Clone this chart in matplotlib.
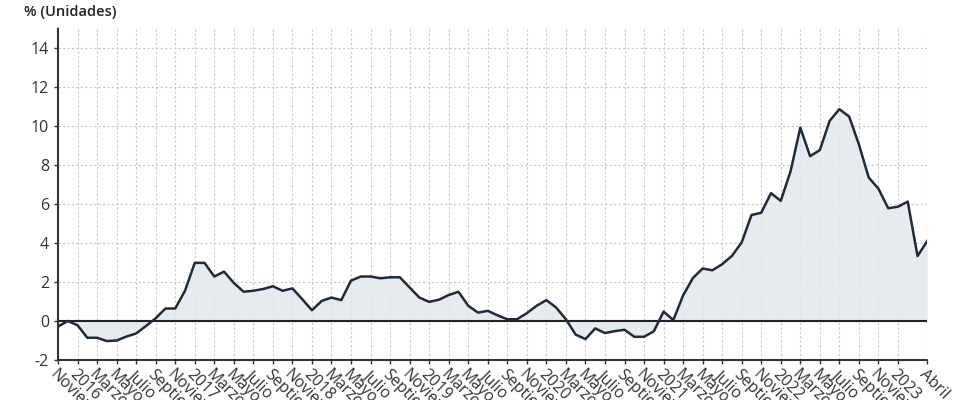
"""
Variacion interanual (%) - unidades
"""

import matplotlib.pyplot as plt
import pandas as pd


# ==========================================================
# Data
# ==========================================================

fecha_inicio = "2015-11-01"
fecha_fin = "2023-04-01"

nombres_mes = {
    3: "Marzo",
    4: "Abril",
    5: "Mayo",
    7: "Julio",
    9: "Septiembre",
    11: "Noviembre",
}

valores = [
    -0.29, 0.0, -0.22, -0.86, -0.86, -1.03, -1.0, -0.8, -0.64, -0.26,
    0.14, 0.64, 0.64, 1.55, 2.98, 2.98, 2.28, 2.53, 1.95, 1.5,
    1.55, 1.64, 1.78, 1.55, 1.67, 1.12, 0.55, 1.03, 1.2, 1.07,
    2.07, 2.28, 2.28, 2.19, 2.24, 2.24, 1.72, 1.2, 0.98, 1.09,
    1.33, 1.5, 0.78, 0.43, 0.52, 0.29, 0.09, 0.09, 0.4, 0.78,
    1.07, 0.69, 0.09, -0.7, -0.93, -0.38, -0.62, -0.52, -0.45, -0.81,
    -0.81, -0.53, 0.48, 0.05, 1.31, 2.2, 2.69, 2.6, 2.91, 3.34,
    4.03, 5.43, 5.55, 6.55, 6.16, 7.67, 9.91, 8.45, 8.76, 10.26,
    10.86, 10.48, 9.05, 7.36, 6.78, 5.78, 5.86, 6.12, 3.33, 4.1,
]

y_ticks = [-2, 0, 2, 4, 6, 8, 10, 12, 14]


def etiqueta(fecha):

    if fecha.month == 1:
        return str(fecha.year)

    return nombres_mes.get(fecha.month, "")


# ==========================================================
# Plot
# ==========================================================

def plot_variacion():

    plt.rcParams["font.family"] = ["Open Sans", "DejaVu Sans"]
    plt.rcParams["axes.unicode_minus"] = False

    fechas = pd.date_range(fecha_inicio, fecha_fin, freq="MS")
    x = list(range(len(valores)))

    # every second month, plus the last month
    tick_pos = x[:-2:2] + [x[-1]]
    tick_lab = [etiqueta(fechas[i]) for i in tick_pos]

    fig = plt.figure(figsize=(9.8, 4), dpi=100)
    ax = fig.add_axes([0.0592, 0.1, 0.887, 0.829])

    ax.fill_between(
        x,
        valores,
        0,
        color="#e3e8ee",
        alpha=0.85,
        linewidth=0,
        zorder=1
    )

    ax.plot(
        x,
        valores,
        color="#1e2b3a",
        linewidth=1.8,
        zorder=3
    )

    ax.axhline(0, color="#222222", linewidth=1.5, zorder=2)

    ax.set_xlim(x[0], x[-1])
    ax.set_ylim(-2, 15)

    ax.set_yticks(y_ticks)
    ax.set_xticks(tick_pos)
    ax.set_xticklabels(
        tick_lab,
        rotation=-45,
        ha="left",
        va="top",
        rotation_mode="anchor"
    )

    ax.tick_params(axis="both", labelsize=11.5, colors="#333333",
                   length=3, width=1)
    ax.tick_params(axis="x", pad=2)

    ax.grid(True, color="#c8c8c8", linestyle=(0, (2, 2)), linewidth=0.8,
            zorder=0)
    ax.set_axisbelow(True)

    for side in ["top", "right"]:
        ax.spines[side].set_visible(False)

    for side in ["left", "bottom"]:
        ax.spines[side].set_linestyle((0, (1, 1)))
        ax.spines[side].set_color("#333333")
        ax.spines[side].set_linewidth(1.5)

    fig.text(0.024, 0.97, "% (Unidades)", fontsize=10.5, color="#222222",
             ha="left", va="center", fontweight="semibold")

    fig.savefig("out.png", dpi=100)

    plt.close(fig)


plot_variacion()
